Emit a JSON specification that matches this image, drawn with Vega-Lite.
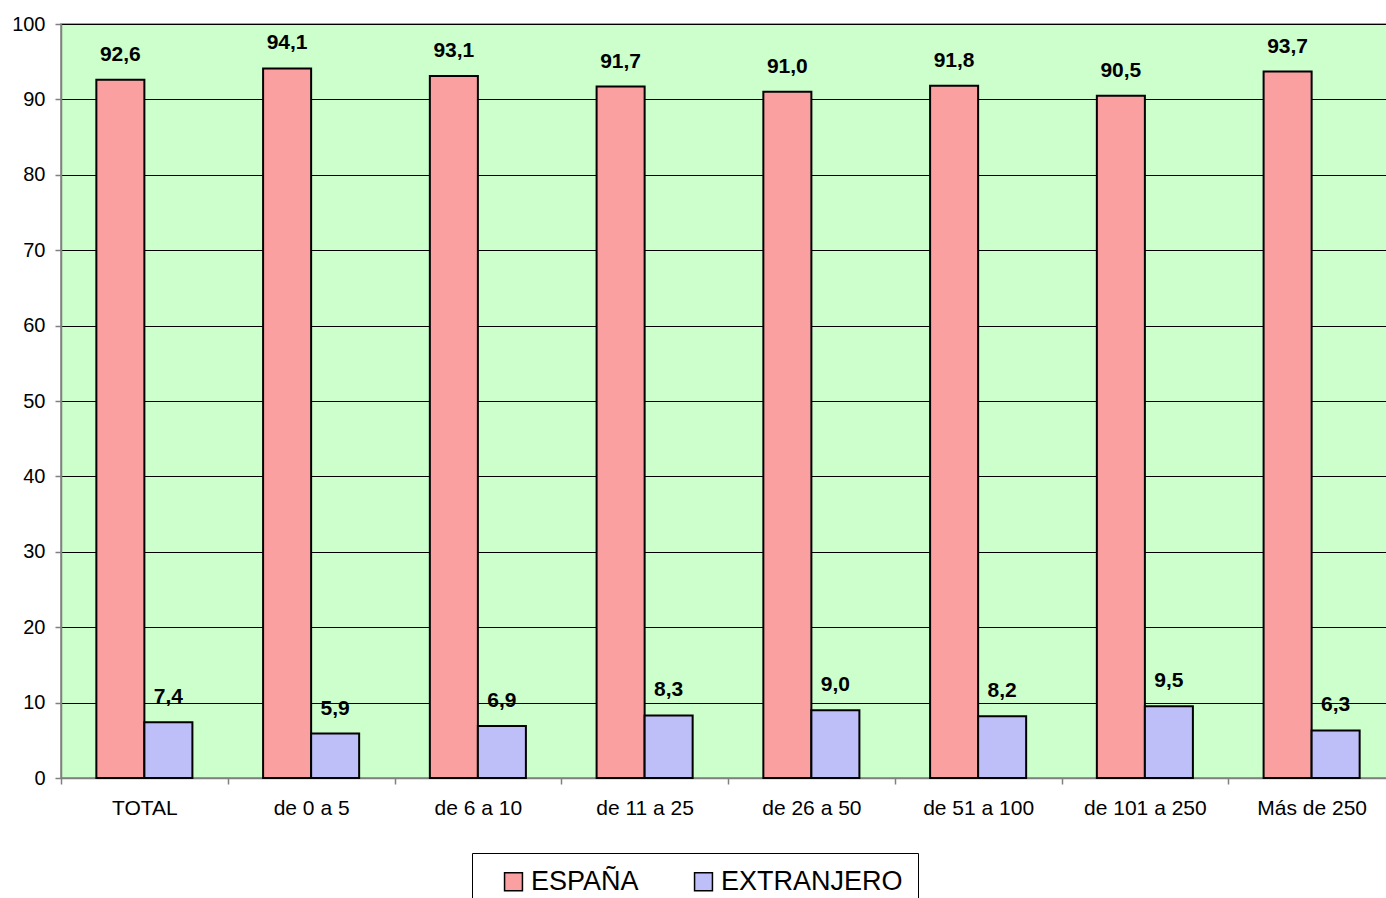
{
  "$schema": "https://vega.github.io/schema/vega-lite/v6.json",
  "autosize": {"type": "none"},
  "padding": {"left": 61, "top": 24, "right": 0, "bottom": 120},
  "width": 1334,
  "height": 754,
  "background": "#ffffff",
  "config": {
    "font": "Liberation Sans",
    "view": {"fill": "#ccffcc", "stroke": "#808080", "strokeWidth": 1.5}
  },
  "data": {
    "values": [
      {"cat": "TOTAL", "serie": "ESPAÑA", "v": 92.6, "label": "92,6"},
      {"cat": "TOTAL", "serie": "EXTRANJERO", "v": 7.4, "label": "7,4"},
      {"cat": "de 0 a 5", "serie": "ESPAÑA", "v": 94.1, "label": "94,1"},
      {"cat": "de 0 a 5", "serie": "EXTRANJERO", "v": 5.9, "label": "5,9"},
      {"cat": "de 6 a 10", "serie": "ESPAÑA", "v": 93.1, "label": "93,1"},
      {"cat": "de 6 a 10", "serie": "EXTRANJERO", "v": 6.9, "label": "6,9"},
      {"cat": "de 11 a 25", "serie": "ESPAÑA", "v": 91.7, "label": "91,7"},
      {"cat": "de 11 a 25", "serie": "EXTRANJERO", "v": 8.3, "label": "8,3"},
      {"cat": "de 26 a 50", "serie": "ESPAÑA", "v": 91.0, "label": "91,0"},
      {"cat": "de 26 a 50", "serie": "EXTRANJERO", "v": 9.0, "label": "9,0"},
      {"cat": "de 51 a 100", "serie": "ESPAÑA", "v": 91.8, "label": "91,8"},
      {"cat": "de 51 a 100", "serie": "EXTRANJERO", "v": 8.2, "label": "8,2"},
      {"cat": "de 101 a 250", "serie": "ESPAÑA", "v": 90.5, "label": "90,5"},
      {"cat": "de 101 a 250", "serie": "EXTRANJERO", "v": 9.5, "label": "9,5"},
      {"cat": "Más de 250", "serie": "ESPAÑA", "v": 93.7, "label": "93,7"},
      {"cat": "Más de 250", "serie": "EXTRANJERO", "v": 6.3, "label": "6,3"}
    ]
  },
  "encoding": {
    "x": {
      "field": "cat", "type": "nominal", "sort": null,
      "scale": {"paddingInner": 0, "paddingOuter": 0},
      "axis": {
        "title": null, "labelAngle": 0, "labelFontSize": 21, "labelColor": "#000000",
        "labelPadding": 13, "tickBand": "extent", "tickSize": 6, "tickColor": "#808080",
        "tickWidth": 1.5, "domainColor": "#808080", "domainWidth": 1.5, "grid": false
      }
    },
    "xOffset": {
      "field": "serie", "type": "nominal",
      "scale": {"paddingInner": 0, "paddingOuter": 0.736}
    },
    "y": {
      "field": "v", "type": "quantitative",
      "scale": {"domain": [0, 100], "nice": false},
      "axis": {
        "title": null, "values": [0, 10, 20, 30, 40, 50, 60, 70, 80, 90, 100],
        "labelFontSize": 20, "labelColor": "#000000", "labelPadding": 10,
        "tickSize": 6, "tickColor": "#808080", "tickWidth": 1.5,
        "domainColor": "#808080", "domainWidth": 1.5,
        "grid": true, "gridColor": "#000000", "gridWidth": 1, "gridOpacity": 1
      }
    }
  },
  "layer": [
    {
      "mark": {"type": "bar", "stroke": "#000000", "strokeWidth": 2},
      "encoding": {
        "color": {
          "field": "serie", "type": "nominal",
          "scale": {"domain": ["ESPAÑA", "EXTRANJERO"], "range": ["#fba0a0", "#bebef8"]},
          "legend": {
            "title": null, "orient": "none", "direction": "horizontal",
            "legendX": 411, "legendY": 829,
            "labelFontSize": 27, "labelColor": "#000000", "labelOffset": 4, "labelLimit": 400,
            "symbolType": "square", "symbolSize": 320, "symbolStrokeColor": "#000000",
            "symbolStrokeWidth": 1.5, "symbolOffset": 13, "columnPadding": 38,
            "padding": 15, "strokeColor": "#000000", "fillColor": "#ffffff"
          }
        }
      }
    },
    {
      "mark": {"type": "text", "fontWeight": "bold", "fontSize": 21, "baseline": "alphabetic", "dy": -19, "color": "#000000"},
      "encoding": {
        "text": {"field": "label"}
      }
    }
  ]
}
